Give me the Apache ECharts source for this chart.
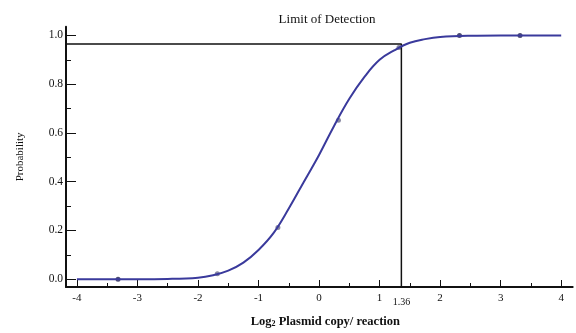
<!DOCTYPE html>
<html><head><meta charset="utf-8">
<script src="https://cdn.jsdelivr.net/npm/echarts@6/dist/echarts.min.js"></script>
<style>html,body{margin:0;padding:0;background:#fff}#c{width:576px;height:333px}</style>
</head><body><div id="c"></div>
<script>
// Observed data points (log2 copies, probability)
const pointX = [-3.32, -1.68, -0.68, 0.32, 1.32, 2.32, 3.32];
const pointY = [0.0, 0.022, 0.212, 0.652, 0.951, 1.0, 1.0];
// Fitted curve
const curveX = [-4, -3, -2.5, -2, -1.75, -1.5, -1.25, -1, -0.75, -0.5, -0.25, 0, 0.25, 0.5, 0.75, 1, 1.25, 1.5, 1.75, 2, 2.5, 3, 3.5, 4];
const curveY = [0.0, 0.0, 0.001, 0.006, 0.016, 0.035, 0.068, 0.12, 0.19, 0.29, 0.40, 0.51, 0.63, 0.74, 0.83, 0.90, 0.94, 0.97, 0.985, 0.994, 0.999, 1.0, 1.0, 1.0];
// Limit of detection
const lodX = 1.36;
const lodY = 0.965;
// Axes
const xMin = -4.18, xMax = 4.19, yMin = -0.032, yMax = 1.036;
const xMajorTicks = [-4, -3, -2, -1, 0, 1, 2, 3, 4];
const xMinorTicks = [-3.5, -2.5, -1.5, -0.5, 0.5, 1.5, 2.5, 3.5];
const yMajorTicks = [0, 0.2, 0.4, 0.6, 0.8, 1.0];
const yMinorTicks = [0.1, 0.3, 0.5, 0.7, 0.9];

const serif = 'Liberation Serif';
const chart = echarts.init(document.getElementById('c'));
const ptColors = ['#1f1f4f', '#6a6a8a', '#6a6a8a', '#6a6a8a', '#6a6a8a', '#1f1f4f', '#1f1f4f'];

chart.setOption({
  animation: false,
  backgroundColor: '#fff',
  title: {
    text: 'Limit of Detection', left: 322, top: 8, textAlign: 'center',
    textStyle: {fontFamily: serif, fontSize: 13, fontWeight: 'normal', color: '#111'}
  },
  grid: {left: 66, right: 3.3, top: 26.7, bottom: 42.3, containLabel: false},
  xAxis: [{
    type: 'value', min: xMin, max: xMax, position: 'bottom',
    name: 'Log{sub|2} Plasmid copy/ reaction', nameLocation: 'middle', nameGap: 28,
    nameTextStyle: {fontFamily: serif, fontSize: 12.5, fontWeight: 'bold', color: '#111', padding: [0, 0, 0, 12],
      rich: {sub: {fontFamily: serif, fontSize: 8, fontWeight: 'bold', color: '#111', verticalAlign: 'bottom', padding: [5, 0, 0, 0]}}},
    axisLine: {show: true, onZero: false, lineStyle: {color: '#111', width: 2}},
    axisTick: {show: true, inside: true, length: 7, customValues: xMajorTicks, lineStyle: {color: '#111', width: 1}},
    axisLabel: {customValues: xMajorTicks.concat([lodX]), margin: 6, fontFamily: serif, fontSize: 11, color: '#111',
      formatter: v => (Math.abs(v - lodX) < 1e-6 ? '{s|1.36}' : String(v)),
      rich: {s: {fontFamily: serif, fontSize: 10, color: '#111', padding: [4, 0, 0, 0]}}},
    splitLine: {show: false}
  }, {
    type: 'value', min: xMin, max: xMax, position: 'bottom',
    axisLine: {show: false, onZero: false},
    axisTick: {show: true, inside: true, length: 4, customValues: xMinorTicks, lineStyle: {color: '#111', width: 1}},
    axisLabel: {show: false}, splitLine: {show: false}
  }],
  yAxis: [{
    type: 'value', min: yMin, max: yMax, position: 'left',
    name: 'Probability', nameLocation: 'middle', nameRotate: 90, nameGap: 40,
    nameTextStyle: {fontFamily: serif, fontSize: 11, color: '#111'},
    axisLine: {show: true, onZero: false, lineStyle: {color: '#111', width: 2}},
    axisTick: {show: true, inside: true, length: 10, customValues: yMajorTicks, lineStyle: {color: '#111', width: 1}},
    axisLabel: {customValues: yMajorTicks, margin: 3, fontFamily: serif, fontSize: 11.5, color: '#111',
      formatter: v => v.toFixed(1)},
    splitLine: {show: false}
  }, {
    type: 'value', min: yMin, max: yMax, position: 'left',
    axisLine: {show: false, onZero: false},
    axisTick: {show: true, inside: true, length: 5, customValues: yMinorTicks, lineStyle: {color: '#111', width: 1}},
    axisLabel: {show: false}, splitLine: {show: false}
  }],
  series: [{
    type: 'line', xAxisIndex: 0, yAxisIndex: 0, silent: true, symbol: 'none',
    data: [[xMin, lodY], [lodX, lodY], [lodX, yMin]],
    lineStyle: {color: '#111', width: 1.5}
  }, {
    type: 'line', xAxisIndex: 0, yAxisIndex: 0, smooth: 0.4, symbol: 'none',
    data: curveX.map((x, i) => [x, curveY[i]]),
    lineStyle: {color: '#3a3a9c', width: 2}
  }, {
    type: 'scatter', xAxisIndex: 0, yAxisIndex: 0, symbolSize: 5,
    data: pointX.map((x, i) => ({value: [x, pointY[i]], itemStyle: {color: ptColors[i]}}))
  }]
});
</script></body></html>
